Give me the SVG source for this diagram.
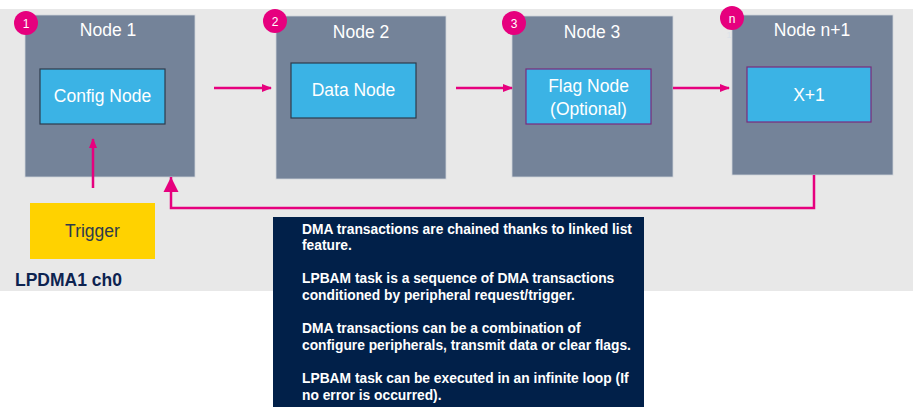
<svg xmlns="http://www.w3.org/2000/svg" width="922" height="407" viewBox="0 0 922 407">
<style>
.bg{fill:#E8E8E8}
.node{fill:#748399;stroke:#D0D4DA;stroke-width:0.8}
.inner{fill:#3BB3E5;stroke:#2E3B4C;stroke-width:1.2}
.innerp{fill:#3BB3E5;stroke:#7A2A7E;stroke-width:1.2}
.title{font-family:"Liberation Sans",Arial,sans-serif;font-size:17.5px;fill:#FFFFFF;text-anchor:middle}
.badge{fill:#E6007E}
.btxt{font-family:"Liberation Sans",Arial,sans-serif;font-size:12px;fill:#FFFFFF;text-anchor:middle}
.conn{fill:none;stroke:#E6007E;stroke-width:2.5}
.note{font-family:"Liberation Sans",Arial,sans-serif;font-size:13.8px;font-weight:bold;fill:#FFFFFF}
</style>
<defs>
<marker id="ah" markerWidth="10" markerHeight="8" refX="9" refY="4" orient="auto" markerUnits="userSpaceOnUse">
<path d="M0,0 L10,4 L0,8 Z" fill="#E6007E"/>
</marker>
<marker id="ahb" markerWidth="16" markerHeight="16" refX="15" refY="8" orient="auto" markerUnits="userSpaceOnUse">
<path d="M0,0.5 L15,8 L0,15.5 Z" fill="#E6007E"/>
</marker>
</defs>
<rect class="bg" x="0" y="9" width="913" height="282"/>

<g id="node1">
<rect class="node" x="25" y="15" width="170" height="162"/>
<text class="title" x="108" y="36">Node 1</text>
<rect class="inner" x="40" y="69" width="125" height="55"/>
<text class="title" x="102.5" y="102">Config Node</text>
<circle class="badge" cx="26" cy="23" r="12"/>
<text class="btxt" x="26" y="27.5">1</text>
</g>

<g id="node2">
<rect class="node" x="276" y="16" width="170" height="163"/>
<text class="title" x="361" y="38">Node 2</text>
<rect class="inner" x="291" y="63" width="125" height="55"/>
<text class="title" x="353.5" y="96">Data Node</text>
<circle class="badge" cx="275" cy="21" r="12"/>
<text class="btxt" x="275" y="25.5">2</text>
</g>

<g id="node3">
<rect class="node" x="512" y="16" width="161" height="161"/>
<text class="title" x="592" y="38">Node 3</text>
<rect class="innerp" x="526" y="69" width="125" height="55"/>
<text class="title" x="588.5" y="92">Flag Node</text>
<text class="title" x="588.5" y="115">(Optional)</text>
<circle class="badge" cx="514" cy="23" r="12"/>
<text class="btxt" x="514" y="27.5">3</text>
</g>

<g id="noden">
<rect class="node" x="732" y="15" width="161" height="160"/>
<text class="title" x="812" y="36">Node n+1</text>
<rect class="innerp" x="747" y="67" width="124" height="55"/>
<text class="title" x="809" y="101">X+1</text>
<text class="btxt" x="729" y="38" style="font-size:9px;fill:#DDE2E8">1</text>
<circle class="badge" cx="732" cy="18" r="12"/>
<text class="btxt" x="732" y="22.5">n</text>
</g>

<g id="trigger">
<rect x="30" y="203" width="125" height="56" fill="#FFD200"/>
<text x="92.5" y="237" style="font-family:'Liberation Sans',Arial,sans-serif;font-size:17.5px;fill:#2E3B4C;text-anchor:middle">Trigger</text>
</g>

<g id="label">
<text x="15" y="286" style="font-family:'Liberation Sans',Arial,sans-serif;font-size:17.5px;font-weight:bold;fill:#0D2350">LPDMA1 ch0</text>
</g>

<g id="connectors">
<line class="conn" x1="214" y1="88" x2="271" y2="88" marker-end="url(#ah)"/>
<line class="conn" x1="456" y1="88" x2="512" y2="88" marker-end="url(#ah)"/>
<line class="conn" x1="673" y1="88" x2="729" y2="88" marker-end="url(#ah)"/>
<line class="conn" x1="93" y1="188" x2="93" y2="139" marker-end="url(#ah)"/>
<polyline class="conn" points="814,175 814,208 171,208 171,177" marker-end="url(#ahb)"/>
</g>

<g id="notes">
<rect x="273" y="217" width="371" height="190" fill="#012049"/>
<text class="note" x="302" y="234">DMA transactions are chained thanks to linked list</text>
<text class="note" x="302" y="250">feature.</text>
<text class="note" x="302" y="283">LPBAM task is a sequence of DMA transactions</text>
<text class="note" x="302" y="300">conditioned by peripheral request/trigger.</text>
<text class="note" x="302" y="333">DMA transactions can be a combination of</text>
<text class="note" x="302" y="350">configure peripherals, transmit data or clear flags.</text>
<text class="note" x="302" y="383">LPBAM task can be executed in an infinite loop (If</text>
<text class="note" x="302" y="400">no error is occurred).</text>
</g>
</svg>
